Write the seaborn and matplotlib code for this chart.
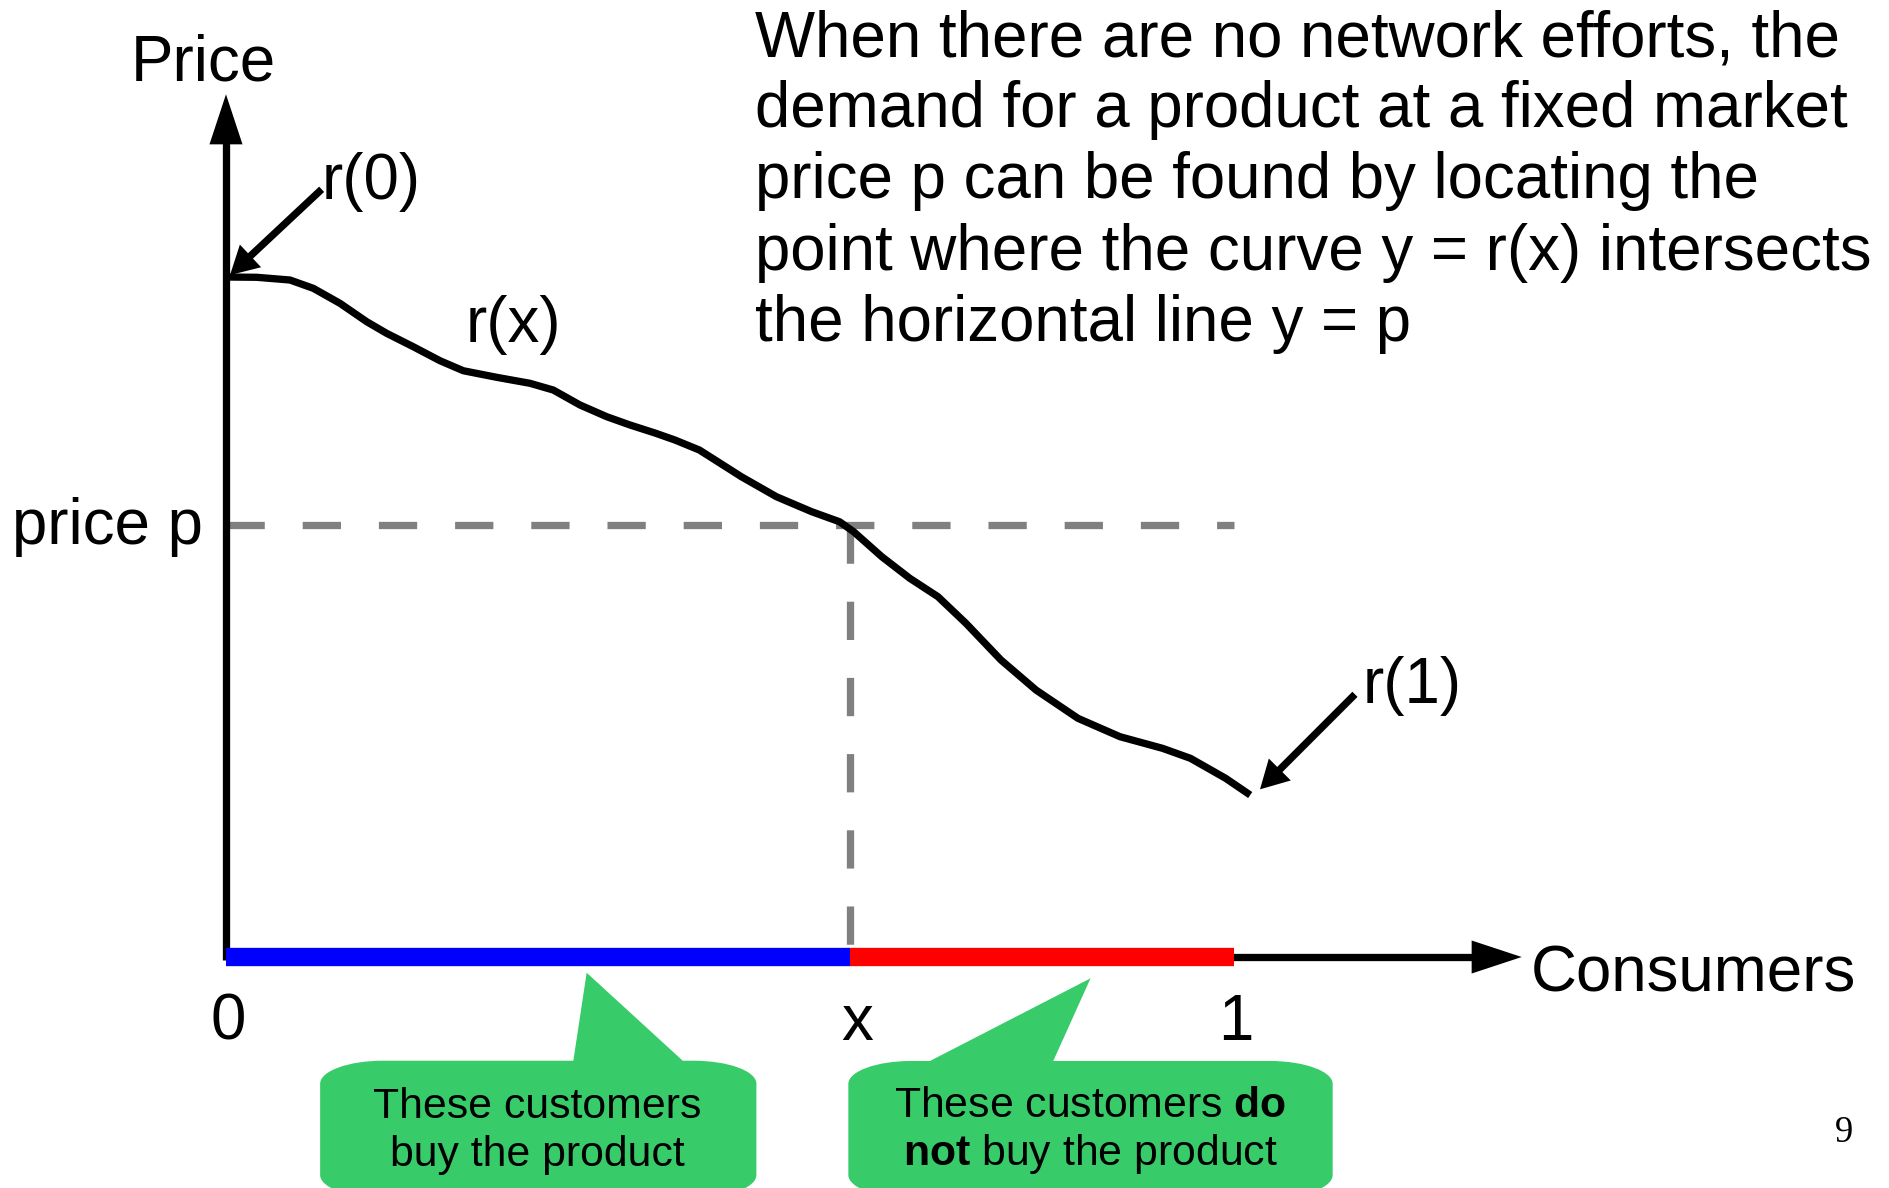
import matplotlib
matplotlib.use("Agg")
import matplotlib.pyplot as plt
import numpy as np
import pandas as pd
import seaborn as sns
from matplotlib.path import Path
from matplotlib.patches import PathPatch

# demand curve r(x), consumers on [0, 1], price scaled so r(0) = 1
curve_x = [0.000, 0.0305, 0.0635, 0.0866, 0.1131, 0.1396, 0.1594, 0.1858, 0.2123,
           0.2354, 0.2686, 0.3016, 0.3247, 0.3512, 0.3777, 0.4008, 0.4256, 0.4454,
           0.4696, 0.4931, 0.5113, 0.5461, 0.5810, 0.6087, 0.6227, 0.6506, 0.6784,
           0.7063, 0.7341, 0.7688, 0.8036, 0.8452, 0.8869, 0.9291, 0.9568, 0.9917, 1.0161]
curve_y = [1.000, 0.9996, 0.9956, 0.9834, 0.9613, 0.9343, 0.9172, 0.8975, 0.8769,
           0.8622, 0.8525, 0.8437, 0.8338, 0.8118, 0.7946, 0.7824, 0.7706, 0.7603,
           0.7456, 0.7235, 0.7063, 0.6769, 0.6549, 0.6401, 0.6254, 0.5887, 0.5569,
           0.5299, 0.4907, 0.4368, 0.3926, 0.3510, 0.3240, 0.3069, 0.2922, 0.2628, 0.2382]
price_p = 0.636
x_star = 0.619

tick_vals = [0.0, x_star, 1.0]
tick_labels = ["0", "x", "1"]

para_lines = [
    "When there are no network efforts, the",
    "demand for a product at a fixed market",
    "price p can be found by locating the",
    "point where the curve y = r(x) intersects",
    "the horizontal line y = p",
]
callout_left = ["These customers", "buy the product"]
callout_right = [r"These customers $\mathbf{do}$", r"$\mathbf{not}$ buy the product"]

sns.set_theme(style="white")
plt.rcParams["font.family"] = ["Liberation Sans", "DejaVu Sans"]
plt.rcParams["text.color"] = "black"
plt.rcParams["mathtext.fontset"] = "custom"
plt.rcParams["mathtext.rm"] = "Liberation Sans"
plt.rcParams["mathtext.bf"] = "Liberation Sans:bold"
plt.rcParams["mathtext.it"] = "Liberation Sans:italic"

fig = plt.figure(figsize=(18.9, 11.88), dpi=100)
ax = fig.add_axes([0, 0, 1, 1])
ax.set_xlim(-0.2242, 1.6508)
ax.set_ylim(-0.3397, 1.4074)
ax.axis("off")

LW = 5.25
FS = 45.8
GREEN = "#38CB6A"


def arrow(tail, tip, head_len, head_w):
    # head sizes in pixels
    p0 = ax.transData.transform(tail)
    p1 = ax.transData.transform(tip)
    d = (p1 - p0) / np.hypot(*(p1 - p0))
    mid = ax.transData.inverted().transform(p1 - d * head_len * 0.6)
    ax.plot([tail[0], mid[0]], [tail[1], mid[1]], color="black", lw=LW,
            solid_capstyle="butt", zorder=4)
    ax.annotate("", xy=tip, xytext=tail,
                arrowprops=dict(arrowstyle=f"-|>,head_length={head_len * 0.72},head_width={head_w * 0.36}",
                                mutation_scale=1, lw=0.01, color="black",
                                shrinkA=0, shrinkB=0), zorder=4)


def callout(x0, x1, yt, yb, rx, ry, base_l, base_r, tip):
    k = 1 - 0.5523
    verts = [(x0 + rx, yt), (base_l, yt), tip, (base_r, yt), (x1 - rx, yt),
             (x1 - rx * k, yt), (x1, yt - ry * k), (x1, yt - ry),
             (x1, yb + ry),
             (x1, yb + ry * k), (x1 - rx * k, yb), (x1 - rx, yb),
             (x0 + rx, yb),
             (x0 + rx * k, yb), (x0, yb + ry * k), (x0, yb + ry),
             (x0, yt - ry),
             (x0, yt - ry * k), (x0 + rx * k, yt), (x0 + rx, yt),
             (x0 + rx, yt)]
    codes = [Path.MOVETO, Path.LINETO, Path.LINETO, Path.LINETO, Path.LINETO,
             Path.CURVE4, Path.CURVE4, Path.CURVE4,
             Path.LINETO,
             Path.CURVE4, Path.CURVE4, Path.CURVE4,
             Path.LINETO,
             Path.CURVE4, Path.CURVE4, Path.CURVE4,
             Path.LINETO,
             Path.CURVE4, Path.CURVE4, Path.CURVE4,
             Path.CLOSEPOLY]
    ax.add_patch(PathPatch(Path(verts, codes), fc=GREEN, ec="none", zorder=2))


# dashed guide lines
ax.plot([0, 1.0], [price_p, price_p], color="#808080", lw=LW, dashes=(5.25, 5.2),
        dash_capstyle="butt", zorder=2)
ax.plot([x_star, x_star], [price_p, 0], color="#808080", lw=LW, dashes=(5.25, 5.2),
        dash_capstyle="butt", zorder=2)

# curve
df = pd.DataFrame({"x": curve_x, "y": curve_y})
sns.lineplot(data=df, x="x", y="y", ax=ax, color="black", lw=LW, sort=False,
             estimator=None, solid_joinstyle="round", solid_capstyle="butt", zorder=3)

# axes with arrows
arrow((0, -0.005), (0, 1.2687), 50, 33)
arrow((0, 0), (1.2854, 0), 50, 33)

# buyers / non-buyers segments
ax.plot([0, x_star], [0, 0], color="#0000FF", lw=13.2, solid_capstyle="butt", zorder=5)
ax.plot([x_star, 1.0], [0, 0], color="#FF0000", lw=13.2, solid_capstyle="butt", zorder=5)

# r(0), r(1) pointers
arrow((0.0949, 1.1290), (0.0040, 1.0029), 28, 31)
arrow((1.1200, 0.3863), (1.0258, 0.2466), 28, 31)

# labels
ax.text(-0.022, 1.2897, "Price", ha="center", va="baseline", fontsize=FS)
ax.text(-0.0225, 0.6073, "price p", ha="right", va="baseline", fontsize=FS)
for v, lab in zip(tick_vals, tick_labels):
    off = 0.007 if lab == "x" else 0.002
    ax.text(v + off, -0.1215, lab, ha="center", va="baseline", fontsize=FS)
ax.text(1.2946, -0.051, "Consumers", ha="left", va="baseline", fontsize=FS)
ax.text(0.0947, 1.1143, "r(0)", ha="left", va="baseline", fontsize=FS)
ax.text(0.2376, 0.9049, "r(x)", ha="left", va="baseline", fontsize=FS)
ax.text(1.1275, 0.3731, "r(1)", ha="left", va="baseline", fontsize=FS)

para_y = [1.3250, 1.2203, 1.1156, 1.0109, 0.9062]
for line, yy in zip(para_lines, para_y):
    ax.text(0.5248, yy, line, ha="left", va="baseline", fontsize=FS)

# callouts
callout(0.0934, 0.5262, -0.1525, -0.3544, 0.0625, 0.0338, 0.3446, 0.4531, (0.3578, -0.0231))
callout(0.6174, 1.0979, -0.1529, -0.3544, 0.0625, 0.0338, 0.6984, 0.8207, (0.8577, -0.0313))
for line, yy in zip(callout_left, [-0.2372, -0.3074]):
    ax.text(0.3092, yy, line, ha="center", va="baseline", fontsize=30.8, zorder=6)
for line, yy in zip(callout_right, [-0.2357, -0.3059]):
    ax.text(0.8571, yy, line, ha="center", va="baseline", fontsize=30.8, zorder=6)

ax.text(1.6052, -0.2716, "9", ha="center", va="baseline", fontsize=26.5,
        family="Liberation Serif")

fig.savefig("out.png", dpi=100, facecolor="white")
